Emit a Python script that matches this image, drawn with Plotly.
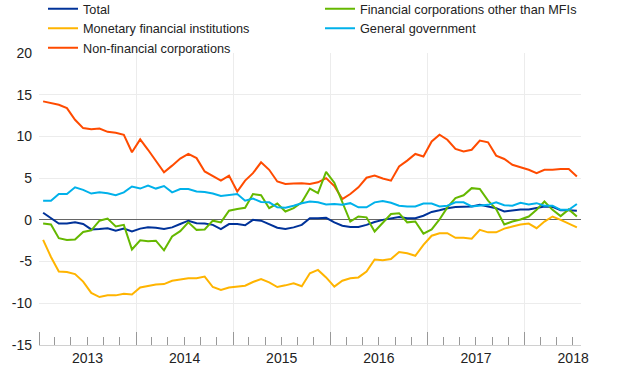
import pandas as pd
import plotly.graph_objects as go

# Monthly observations, January 2013 - July 2018
months = pd.date_range("2013-01-01", periods=67, freq="MS")

total = [0.85, 0.2, -0.45, -0.45, -0.3, -0.5, -1.15, -1.1, -1.0, -1.3,
         -1.05, -1.4, -1.05, -0.9, -0.95, -1.1, -0.9, -0.5, -0.1, -0.4,
         -0.45, -0.6, -1.1, -0.5, -0.5, -0.65, 0.0, -0.1, -0.5, -0.95,
         -1.1, -0.9, -0.6, 0.2, 0.2, 0.25, -0.3, -0.7, -0.85, -0.85,
         -0.6, -0.25, 0.0, 0.2, 0.35, 0.2, 0.2, 0.5, 0.95, 1.15,
         1.4, 1.55, 1.6, 1.6, 1.8, 1.6, 1.4, 1.0, 1.1, 1.25,
         1.25, 1.4, 1.6, 1.55, 1.15, 1.15, 1.1]

mfi = [-2.4, -4.45, -6.2, -6.25, -6.5, -7.4, -8.75, -9.25, -9.05, -9.05,
       -8.85, -8.95, -8.1, -7.9, -7.75, -7.7, -7.3, -7.15, -7.0, -7.0,
       -6.8, -8.05, -8.4, -8.1, -8.0, -7.9, -7.45, -7.1, -7.5, -8.05,
       -7.85, -7.6, -7.95, -6.4, -6.0, -6.9, -8.0, -7.3, -7.0, -6.9,
       -6.2, -4.75, -4.85, -4.7, -3.85, -4.0, -4.3, -3.0, -1.9, -1.6,
       -1.6, -2.15, -2.15, -2.25, -1.2, -1.5, -1.5, -1.05, -0.8, -0.55,
       -0.45, -1.0, -0.2, 0.4, 0.0, -0.5, -0.9]

nfc = [14.2, 14.0, 13.8, 13.4, 12.0, 11.0, 10.85, 10.95, 10.55, 10.45,
       10.2, 8.1, 9.65, 8.4, 7.1, 5.7, 6.5, 7.35, 7.9, 7.4,
       5.8, 5.2, 4.7, 5.3, 3.4, 4.7, 5.6, 6.9, 6.0, 4.6,
       4.3, 4.35, 4.4, 4.3, 4.5, 5.0, 4.05, 2.5, 3.1, 3.9,
       5.05, 5.3, 4.95, 4.7, 6.4, 7.1, 7.9, 7.6, 9.4, 10.2,
       9.6, 8.5, 8.2, 8.4, 9.5, 9.3, 7.7, 7.3, 6.6, 6.3,
       6.0, 5.6, 6.0, 6.0, 6.1, 6.1, 5.2]

ofc = [-0.45, -0.55, -2.2, -2.4, -2.35, -1.45, -1.25, -0.1, 0.15, -0.8,
       -0.6, -3.55, -2.45, -2.55, -2.5, -3.65, -2.0, -1.35, -0.3, -1.2,
       -1.15, -0.1, -0.3, 1.1, 1.3, 1.45, 3.1, 2.95, 1.4, 1.95,
       1.0, 1.4, 2.1, 3.75, 3.2, 5.75, 4.45, 2.05, -0.2, 0.4,
       0.3, -1.4, -0.3, 0.7, 0.8, -0.3, -0.2, -1.65, -1.15, 0.05,
       1.5, 2.6, 2.95, 3.8, 3.7, 2.3, 1.3, -0.55, -0.2, 0.05,
       0.4, 1.2, 2.2, 1.2, 0.45, 1.25, 0.4]

gg = [2.3, 2.3, 3.1, 3.1, 3.9, 3.6, 3.15, 3.3, 3.2, 2.95,
      3.3, 4.0, 3.75, 4.1, 3.75, 4.05, 3.3, 3.7, 3.7, 3.4,
      3.35, 3.15, 2.85, 3.0, 3.1, 2.3, 2.55, 2.15, 2.1, 1.5,
      1.45, 1.7, 2.0, 2.2, 2.1, 1.85, 1.9, 1.8, 2.0, 1.5,
      1.5, 2.1, 2.25, 2.05, 1.7, 1.6, 1.6, 1.95, 1.95, 1.6,
      1.7, 2.1, 2.1, 1.6, 1.7, 1.8, 2.1, 1.75, 1.7, 2.05,
      1.85, 2.0, 1.7, 1.7, 1.2, 1.2, 1.9]

series_names = ["Total", "Monetary financial institutions", "Non-financial corporations",
                "Financial corporations other than MFIs", "General government"]
series_values = [total, mfi, nfc, ofc, gg]
series_colors = ["#003299", "#FFB400", "#FF4B00", "#65B800", "#00B1EA"]
series_legend = ["legend", "legend", "legend", "legend2", "legend2"]

y_tickvals = [20, 15, 10, 5, 0, -5, -10, -15]
y_ticktext = ["20", "15", "10", "5", "0", "-5", "-10", "-15"]

FONT = "Liberation Sans, Arial, Helvetica, sans-serif"

fig = go.Figure()
for name, vals, col, lg in zip(series_names, series_values, series_colors, series_legend):
    fig.add_trace(go.Scatter(
        x=months, y=vals, name=name, mode="lines",
        xperiod="M1", xperiodalignment="middle",
        line=dict(color=col, width=2),
        legend=lg,
    ))

legend_common = dict(
    orientation="v", xref="container", yref="paper",
    xanchor="left", yanchor="top", y=1.2021,
    font=dict(size=12.7, family=FONT, color="#222222"),
    bgcolor="rgba(0,0,0,0)", traceorder="normal",
)

fig.update_layout(
    width=620, height=387,
    margin=dict(l=39, r=39, t=53, b=42, autoexpand=False),
    paper_bgcolor="white", plot_bgcolor="white",
    font=dict(family=FONT, color="#222222"),
    showlegend=True,
    hovermode=False,
    legend=dict(x=43 / 620, **legend_common),
    legend2=dict(x=320 / 620, **legend_common),
    xaxis=dict(
        type="date",
        range=["2013-01-01", "2018-08-01"],
        tick0="2013-01-01", dtick="M12", tickformat="%Y",
        ticklabelmode="period",
        ticks="inside", ticklen=13, tickcolor="#999999", tickwidth=1,
        showgrid=True, gridcolor="#ececec", gridwidth=1,
        showline=True, linecolor="#d0d0d0", linewidth=1,
        tickfont=dict(size=14, family=FONT, color="#222222"),
        minor=dict(dtick="M2", tick0="2013-01-01", ticks="inside", ticklen=8,
                   tickcolor="#999999", showgrid=False),
        zeroline=False,
    ),
    yaxis=dict(
        range=[-15, 20],
        tickmode="array", tickvals=y_tickvals, ticktext=y_ticktext,
        showgrid=True, gridcolor="#ececec", gridwidth=1,
        zeroline=True, zerolinecolor="#666666", zerolinewidth=1,
        showline=False, ticks="",
        ticklabelstandoff=6,
        tickfont=dict(size=14, family=FONT, color="#222222"),
    ),
)

fig.write_html("out.html", config={"displayModeBar": False},
               post_script="document.body.style.margin='0px';")
